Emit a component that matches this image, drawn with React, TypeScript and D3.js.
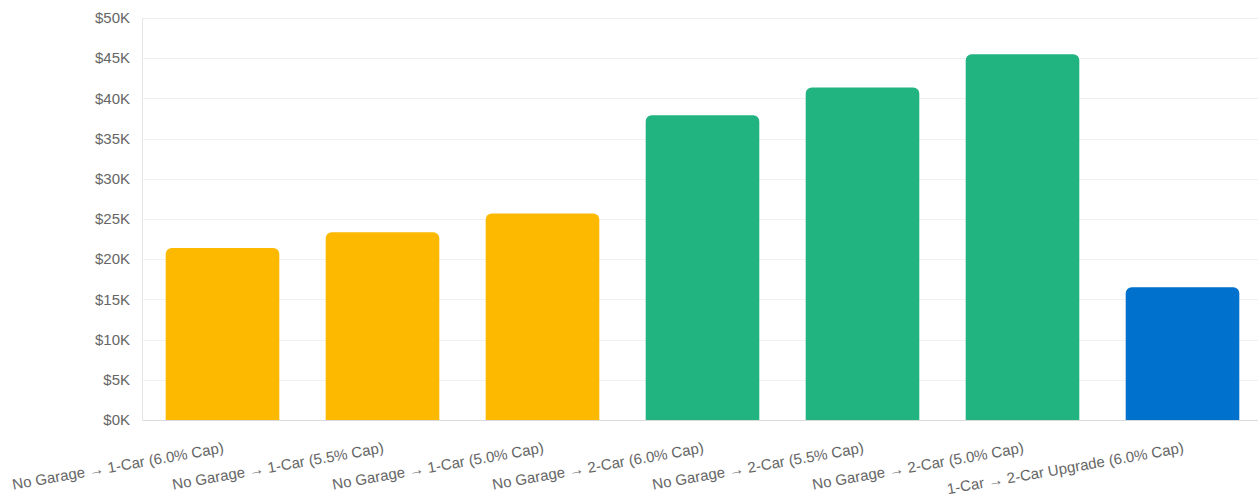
import React, { useEffect, useRef } from "react";
import * as d3 from "d3";

const categories: string[] = [
  "No Garage → 1-Car (6.0% Cap)",
  "No Garage → 1-Car (5.5% Cap)",
  "No Garage → 1-Car (5.0% Cap)",
  "No Garage → 2-Car (6.0% Cap)",
  "No Garage → 2-Car (5.5% Cap)",
  "No Garage → 2-Car (5.0% Cap)",
  "1-Car → 2-Car Upgrade (6.0% Cap)",
];
const values: number[] = [21400, 23350, 25680, 37900, 41350, 45480, 16500];
const barColors: string[] = ["#FDB900", "#FDB900", "#FDB900", "#22B480", "#22B480", "#22B480", "#0071CC"];
const yTicks: number[] = [0, 5000, 10000, 15000, 20000, 25000, 30000, 35000, 40000, 45000, 50000];

const W = 1258;
const H = 500;

export default function App() {
  const ref = useRef<SVGSVGElement>(null);
  useEffect(() => {
    const svg = d3.select(ref.current);
    svg.selectAll("*").remove();
    const left = 142.5, right = 1262.5, top = 18, bottom = 420;
    const x = d3.scaleBand<string>().domain(categories).range([left, right]).paddingInner(0.29).paddingOuter(0.145);
    const y = d3.scaleLinear().domain([0, 50000]).range([bottom, top]);
    const font = "'Liberation Sans', Arial, sans-serif";

    // grid
    svg.append("g").selectAll("line").data(yTicks.filter(t => t > 0)).join("line")
      .attr("x1", left).attr("x2", W).attr("y1", d => Math.round(y(d)) + 0.5).attr("y2", d => Math.round(y(d)) + 0.5)
      .attr("stroke", "#efefef").attr("stroke-width", 1);
    // left axis line
    svg.append("line").attr("x1", left).attr("x2", left).attr("y1", top).attr("y2", bottom)
      .attr("stroke", "#e6e6e6");
    // y labels
    svg.append("g").selectAll("text").data(yTicks).join("text")
      .attr("x", 130).attr("y", d => y(d)).attr("dy", "0.35em")
      .attr("text-anchor", "end").attr("font-family", font).attr("font-size", 15)
      .attr("fill", "#666").text(d => `$${d / 1000}K`);

    // bars with rounded top
    const r = 6;
    svg.append("g").selectAll("path").data(values).join("path")
      .attr("d", (d, i) => {
        const x0 = x(categories[i])!;
        const w = x.bandwidth();
        const yt = y(d);
        const p = d3.path();
        p.moveTo(x0, bottom);
        p.lineTo(x0, yt + r);
        p.arcTo(x0, yt, x0 + r, yt, r);
        p.lineTo(x0 + w - r, yt);
        p.arcTo(x0 + w, yt, x0 + w, yt + r, r);
        p.lineTo(x0 + w, bottom);
        p.closePath();
        return p.toString();
      })
      .attr("fill", (_, i) => barColors[i]);

    // x axis line
    svg.append("line").attr("x1", left).attr("x2", W).attr("y1", bottom + 0.5).attr("y2", bottom + 0.5)
      .attr("stroke", "#d9d9d9");

    // x labels
    svg.append("g").selectAll("text").data(categories).join("text")
      .attr("transform", d => `translate(${x(d)! + x.bandwidth() / 2},${bottom + 22}) rotate(-10)`)
      .attr("dy", "0.71em")
      .attr("text-anchor", "end").attr("font-family", font).attr("font-size", 15)
      .attr("fill", "#666").text(d => d);
  }, []);
  return (
    <div style={{ position: "absolute", left: 0, top: 0, width: W, height: H, overflow: "hidden", background: "#fff" }}>
      <svg ref={ref} width={W} height={H} style={{ display: "block" }} />
    </div>
  );
}
